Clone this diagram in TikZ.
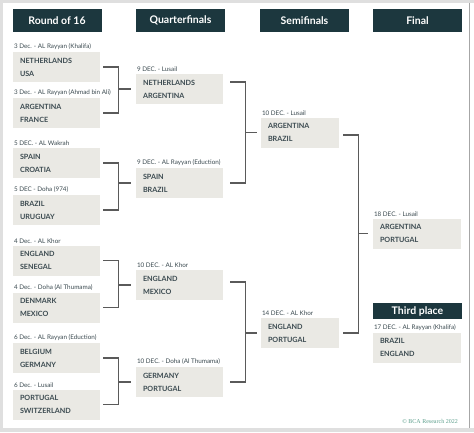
\documentclass[tikz,border=0pt]{standalone}
\usepackage{fontspec}
\setmainfont{Lato}
\newfontfamily\copyfont{Liberation Serif}
\usetikzlibrary{positioning}
\definecolor{headbg}{HTML}{1C373E}
\definecolor{boxbg}{HTML}{EAE9E4}
\definecolor{teamtxt}{HTML}{3B4A50}
\definecolor{linegray}{HTML}{5A5A5A}
\definecolor{copygreen}{HTML}{5FA08E}
\tikzset{
  header/.style={fill=headbg, text=white, font=\bfseries\fontsize{10.5}{12}\selectfont, minimum width=89pt, minimum height=23pt, inner sep=0pt},
  match/.style={fill=boxbg, text=teamtxt, font=\bfseries\fontsize{7.2}{13}\selectfont, minimum height=30pt, align=left, text width=#1, inner xsep=7pt, inner ysep=0pt},
  match/.default=73pt,
  datelbl/.style={anchor=south west, text=teamtxt, font=\fontsize{6.3}{7}\selectfont, inner xsep=1pt, inner ysep=2pt},
  bracket/.style={draw=linegray, line width=1.1pt}
}
\begin{document}
\begin{tikzpicture}[x=1pt,y=-1pt]
            \useasboundingbox (0,0) rectangle (474,432);
            \fill[gray!25] (0,0) rectangle (474,432);
            \fill[white] (3,2.5) rectangle (474,428);
            \draw[gray!70, line width=0.8pt] (469.5,2.5) -- (469.5,428);

            \node[header] (round16) at (57,20.5) {Round of 16};
            \node[header] (quarter) at (180.5,20.5) {Quarterfinals};
            \node[header] (semi) at (304.5,20.5) {Semifinals};
            \node[header] (final) at (417.5,20.5) {Final};
            \node[header, minimum height=16pt] (third) at (417.5,311) {Third place};

            \node[match] (r1) at (56.5,67) {NETHERLANDS\\USA};
            \node[match] (r2) at (56.5,113) {ARGENTINA\\FRANCE};
            \node[match] (r3) at (56.5,163) {SPAIN\\CROATIA};
            \node[match] (r4) at (56.5,210) {BRAZIL\\URUGUAY};
            \node[match] (r5) at (56.5,260.5) {ENGLAND\\SENEGAL};
            \node[match] (r6) at (56.5,307.5) {DENMARK\\MEXICO};
            \node[match] (r7) at (56.5,358) {BELGIUM\\GERMANY};
            \node[match] (r8) at (56.5,404.5) {PORTUGAL\\SWITZERLAND};
            \node[datelbl] (d1) at (r1.north west) {3 Dec. - AL Rayyan (Khalifa)};
            \node[datelbl] (d2) at (r2.north west) {3 Dec. - AL Rayyan (Ahmad bin Ali)};
            \node[datelbl] (d3) at (r3.north west) {5 DEC. - AL Wakrah};
            \node[datelbl] (d4) at (r4.north west) {5 DEC - Doha (974)};
            \node[datelbl] (d5) at (r5.north west) {4 Dec. - AL Khor};
            \node[datelbl] (d6) at (r6.north west) {4 Dec. - Doha (Al Thumama)};
            \node[datelbl] (d7) at (r7.north west) {6 Dec. - AL Rayyan (Eduction)};
            \node[datelbl] (d8) at (r8.north west) {6 Dec. - Lusail};

            \node[match] (q1) at (179.5,89) {NETHERLANDS\\ARGENTINA};
            \node[match] (q2) at (179.5,183) {SPAIN\\BRAZIL};
            \node[match] (q3) at (179.5,285) {ENGLAND\\MEXICO};
            \node[match] (q4) at (179.5,382) {GERMANY\\PORTUGAL};
            \node[datelbl] (dq1) at (q1.north west) {9 DEC. - Lusail};
            \node[datelbl] (dq2) at (q2.north west) {9 DEC. - AL Rayyan (Eduction)};
            \node[datelbl] (dq3) at (q3.north west) {10 DEC. - AL Khor};
            \node[datelbl] (dq4) at (q4.north west) {10 DEC. - Doha (Al Thumama)};

            \node[match=64pt] (s1) at (300,132.5) {ARGENTINA\\BRAZIL};
            \node[match=64pt] (s2) at (300,333) {ENGLAND\\PORTUGAL};
            \node[datelbl] (ds1) at (s1.north west) {10 DEC. - Lusail};
            \node[datelbl] (ds2) at (s2.north west) {14 DEC. - AL Khor};

            \node[match=74pt] (f1) at (417,233.5) {ARGENTINA\\PORTUGAL};
            \node[match=74pt] (t1) at (417,347.5) {BRAZIL\\ENGLAND};
            \node[datelbl] (df1) at (f1.north west) {18 DEC. - Lusail};
            \node[datelbl] (dt1) at (t1.north west) {17 DEC. - AL Rayyan (Khalifa)};

            \draw[bracket] ([xshift=3pt]r1.east) -- ++(15,0) coordinate (b1) |- ([xshift=3pt]r2.east);
            \draw[bracket] ([xshift=3pt]r3.east) -- ++(15,0) coordinate (b2) |- ([xshift=3pt]r4.east);
            \draw[bracket] ([xshift=3pt]r5.east) -- ++(15,0) coordinate (b3) |- ([xshift=3pt]r6.east);
            \draw[bracket] ([xshift=3pt]r7.east) -- ++(15,0) coordinate (b4) |- ([xshift=3pt]r8.east);
            \draw[bracket] ([xshift=-5pt]q1.west) -- (q1.west -| b1);
            \draw[bracket] ([xshift=-5pt]q2.west) -- (q2.west -| b2);
            \draw[bracket] ([xshift=-5pt]q3.west) -- (q3.west -| b3);
            \draw[bracket] ([xshift=-5pt]q4.west) -- (q4.west -| b4);

            \draw[bracket] ([xshift=7pt,yshift=7pt]q1.east) -- ++(15,0) coordinate (b5) |- ([xshift=7pt]q2.east);
            \draw[bracket] ([xshift=7pt,yshift=3pt]q3.east) -- ++(15,0) coordinate (b6) |- ([xshift=7pt]q4.east);
            \draw[bracket] ([xshift=-4pt]s1.west) -- (s1.west -| b5);
            \draw[bracket] ([xshift=-4pt]s2.west) -- (s2.west -| b6);

            \draw[bracket] ([xshift=4pt,yshift=-2.5pt]s1.east) -- ++(15,0) coordinate (b7) |- ([xshift=4pt]s2.east);
            \draw[bracket] ([xshift=-5pt]f1.west) -- (f1.west -| b7);

            \node[text=copygreen, font=\copyfont\fontsize{6}{7}\selectfont, anchor=east, inner sep=0pt] (copy) at (458,421) {© BCA Research 2022};
        \end{tikzpicture}
\end{document}
